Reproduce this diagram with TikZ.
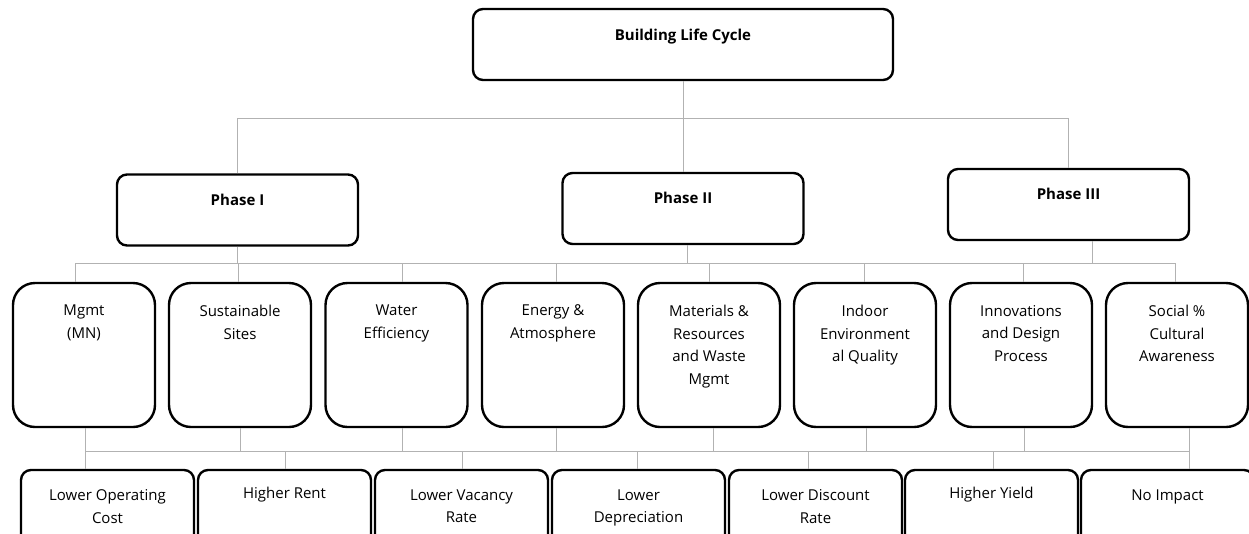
\documentclass[tikz,border=0pt]{standalone}
\usepackage{fontspec}
\setmainfont{Open Sans}
\begin{document}
\begin{tikzpicture}[x=1pt,y=-1pt,
  box/.style={draw=black, line width=2.4pt, rounded corners=10pt, inner sep=0pt},
  catbox/.style={box, rounded corners=22pt, minimum width=142pt, minimum height=144pt},
  phbox/.style={box, minimum width=241pt, minimum height=71pt},
  topbox/.style={box, minimum width=420pt, minimum height=71pt},
  resbox/.style={box, minimum width=173pt, minimum height=90pt},
  lbl/.style={anchor=north, inner sep=0pt, align=center, font=\fontsize{15}{22.7}\selectfont},
  blbl/.style={anchor=north, inner sep=0pt, align=center, font=\fontsize{15}{18}\selectfont\bfseries},
  wire/.style={draw=black!30, line width=1pt}]
\useasboundingbox (0,0) rectangle (1249,533);
\clip (0,0) rectangle (1249,533);

% buses
\coordinate (busA) at (0,118);
\coordinate (busB) at (0,263);
\coordinate (busC) at (0,451);

% top
\node[topbox] (T) at (683,44.5) {};
\node[blbl] (Tt) at ([yshift=-21pt]T.north) {Building Life Cycle};

% phases
\node[phbox] (P1) at (237.5,210) {};
\node[phbox] (P2) at (683,208.5) {};
\node[phbox] (P3) at (1068.5,204.5) {};
\node[blbl] (P1t) at ([yshift=-20.5pt]P1.north) {Phase I};
\node[blbl] (P2t) at ([yshift=-20.5pt]P2.north) {Phase II};
\node[blbl] (P3t) at ([yshift=-20.5pt]P3.north) {Phase III};

% categories
\node[catbox] (C1) at (84,355) {};
\node[catbox] (C2) at (240,355) {};
\node[catbox] (C3) at (396.5,355) {};
\node[catbox] (C4) at (553,355) {};
\node[catbox] (C5) at (709,355) {};
\node[catbox] (C6) at (865,355) {};
\node[catbox] (C7) at (1021,355) {};
\node[catbox] (C8) at (1177,355) {};
\node[lbl] (C1t) at ([yshift=-23pt]C1.north) {Mgmt\\(MN)};
\node[lbl] (C2t) at ([yshift=-23pt]C2.north) {Sustainable\\Sites};
\node[lbl] (C3t) at ([yshift=-23pt]C3.north) {Water\\Efficiency};
\node[lbl] (C4t) at ([yshift=-23pt]C4.north) {Energy \&\\Atmosphere};
\node[lbl] (C5t) at ([yshift=-23pt]C5.north) {Materials \&\\Resources\\and Waste\\Mgmt};
\node[lbl] (C6t) at ([yshift=-23pt]C6.north) {Indoor\\Environment\\al Quality};
\node[lbl] (C7t) at ([yshift=-23pt]C7.north) {Innovations\\and Design\\Process};
\node[lbl] (C8t) at ([yshift=-23pt]C8.north) {Social \%\\Cultural\\Awareness};

% results
\node[resbox] (R1) at (107.5,515) {};
\node[resbox] (R2) at (284.5,515) {};
\node[resbox] (R3) at (461.5,515) {};
\node[resbox] (R4) at (638.5,515) {};
\node[resbox] (R5) at (815.5,515) {};
\node[resbox] (R6) at (991.5,515) {};
\node[resbox] (R7) at (1167.5,515) {};
\node[lbl] (R1t) at ([yshift=-20.5pt]R1.north) {Lower Operating\\Cost};
\node[lbl] (R2t) at ([yshift=-18.5pt]R2.north) {Higher Rent};
\node[lbl] (R3t) at ([yshift=-20.5pt]R3.north) {Lower Vacancy\\Rate};
\node[lbl] (R4t) at ([yshift=-20.5pt]R4.north) {Lower\\Depreciation};
\node[lbl] (R5t) at ([yshift=-20.5pt]R5.north) {Lower Discount\\Rate};
\node[lbl] (R6t) at ([yshift=-18.5pt]R6.north) {Higher Yield};
\node[lbl] (R7t) at ([yshift=-20.5pt]R7.north) {No Impact};

% level 1 connectors
\draw[wire] (T.south) -- (P2.north);
\draw[wire] (P1.north |- busA) -- (P3.north |- busA);
\draw[wire] (P1.north) -- (P1.north |- busA);
\draw[wire] (P3.north) -- (P3.north |- busA);

% level 2 connectors
\draw[wire] (P1.south) -- (P1.south |- busB);
\draw[wire] ([xshift=4pt]P2.south) -- ([xshift=4pt]P2.south |- busB);
\draw[wire] ([xshift=23.5pt]P3.south) -- ([xshift=23.5pt]P3.south |- busB);
\draw[wire] ([xshift=-9pt]C1.north |- busB) -- ([xshift=-2pt]C8.north |- busB);
\draw[wire] ([xshift=-9pt]C1.north) -- ([xshift=-9pt]C1.north |- busB);
\draw[wire] ([xshift=-2pt]C2.north) -- ([xshift=-2pt]C2.north |- busB);
\draw[wire] ([xshift=5.5pt]C3.north) -- ([xshift=5.5pt]C3.north |- busB);
\draw[wire] ([xshift=3pt]C4.north) -- ([xshift=3pt]C4.north |- busB);
\draw[wire] (C5.north) -- (C5.north |- busB);
\draw[wire] ([xshift=-1pt]C6.north) -- ([xshift=-1pt]C6.north |- busB);
\draw[wire] ([xshift=2pt]C7.north) -- ([xshift=2pt]C7.north |- busB);
\draw[wire] ([xshift=-2pt]C8.north) -- ([xshift=-2pt]C8.north |- busB);

% level 3 connectors
\draw[wire] ([xshift=1pt]C1.south |- busC) -- ([xshift=12pt]C8.south |- busC);
\draw[wire] ([xshift=1pt]C1.south) -- ([xshift=1pt]C1.south |- busC);
\draw[wire] (C2.south) -- (C2.south |- busC);
\draw[wire] ([xshift=5.5pt]C3.south) -- ([xshift=5.5pt]C3.south |- busC);
\draw[wire] ([xshift=3pt]C4.south) -- ([xshift=3pt]C4.south |- busC);
\draw[wire] ([xshift=4pt]C5.south) -- ([xshift=4pt]C5.south |- busC);
\draw[wire] ([xshift=1pt]C6.south) -- ([xshift=1pt]C6.south |- busC);
\draw[wire] ([xshift=3pt]C7.south) -- ([xshift=3pt]C7.south |- busC);
\draw[wire] ([xshift=12pt]C8.south) -- ([xshift=12pt]C8.south |- busC);
\draw[wire] ([xshift=-22.5pt]R1.north) -- ([xshift=-22.5pt]R1.north |- busC);
\draw[wire] ([xshift=0.5pt]R2.north) -- ([xshift=0.5pt]R2.north |- busC);
\draw[wire] ([xshift=0.5pt]R3.north) -- ([xshift=0.5pt]R3.north |- busC);
\draw[wire] ([xshift=-1.5pt]R4.north) -- ([xshift=-1.5pt]R4.north |- busC);
\draw[wire] ([xshift=-7.5pt]R5.north) -- ([xshift=-7.5pt]R5.north |- busC);
\draw[wire] ([xshift=1.5pt]R6.north) -- ([xshift=1.5pt]R6.north |- busC);
\draw[wire] ([xshift=21.5pt]R7.north) -- ([xshift=21.5pt]R7.north |- busC);
\end{tikzpicture}
\end{document}
